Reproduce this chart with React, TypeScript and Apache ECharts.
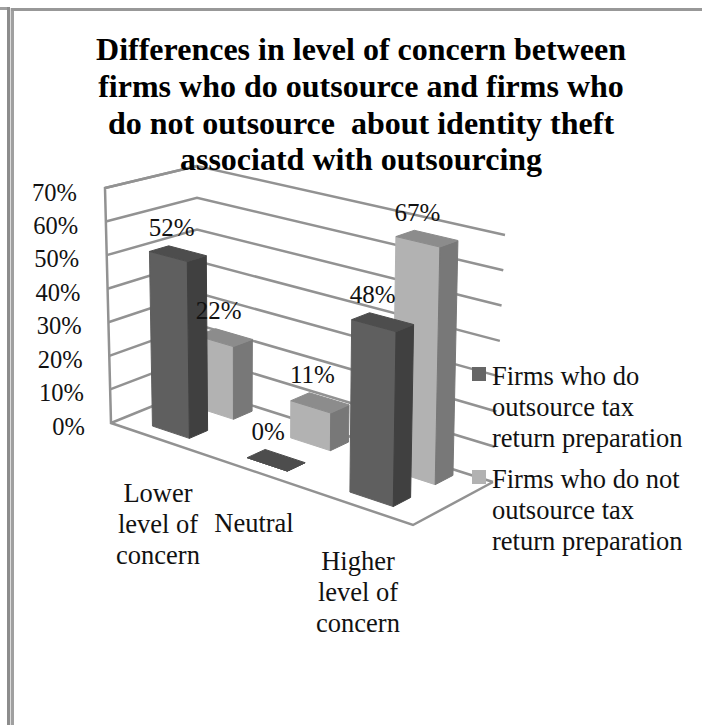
import React, { useEffect, useRef } from "react";
import * as echarts from "echarts";

const categories = ["Lower\nlevel of\nconcern", "Neutral", "Higher\nlevel of\nconcern"];
const seriesNames = [
  "Firms who do\noutsource tax\nreturn preparation",
  "Firms who do not\noutsource tax\nreturn preparation",
];
const doOutsource = [52, 0, 48];
const doNotOutsource = [22, 11, 67];
const ticks = [0, 10, 20, 30, 40, 50, 60, 70];
const titleText =
  "Differences in level of concern between\nfirms who do outsource and firms who\ndo not outsource  about identity theft\nassociatd with outsourcing";

const FONT = '"Liberation Serif", "Times New Roman", serif';
const corners = {
  fl0: [111, 423], fr0: [413, 525], bl0: [197, 388], br0: [493, 482],
  fl1: [105, 188], fr1: [418, 265], bl1: [197, 166], br1: [505, 235],
};
const barCorners = { ...corners, br1: [499, 235] };
const lerp = (a: number[], b: number[], t: number) => [a[0] + (b[0] - a[0]) * t, a[1] + (b[1] - a[1]) * t];
const projectWith = (c: typeof corners, s: number, d: number, v: number) => {
  const bottom = lerp(lerp(c.fl0, c.fr0, s), lerp(c.bl0, c.br0, s), d);
  const top = lerp(lerp(c.fl1, c.fr1, s), lerp(c.bl1, c.br1, s), d);
  return lerp(bottom, top, v);
};
const project = (s: number, d: number, v: number) => projectWith(corners, s, d, v);
const projectBar = (s: number, d: number, v: number) => projectWith(barCorners, s, d, v);
const warp = (u: number) => 0.88 * u + 0.12 * u * u;
const GRID = "#929292";
const BAR_HALF = 0.2;
const seriesDepth = [[0.17, 0.385], [0.69, 0.91]];
const seriesColors = [
  { front: "#5f5f5f", side: "#404040", top: "#4d4d4d", swatch: "#666666" },
  { front: "#b2b2b2", side: "#787878", top: "#8c8c8c", swatch: "#b2b2b2" },
];
const categoryLabelPos = [[158, 524], [254, 523], [358, 592]];
const legendPos = [[472, 367], [472, 470]];

const barSeries = (idx: number, values: number[]) => ({
  type: "custom",
  name: seriesNames[idx],
  coordinateSystem: "cartesian2d",
  clip: false,
  silent: true,
  z: 3 - idx,
  data: values.map((v, i) => [i, v]),
  encode: { x: 0, y: 1 },
  renderItem: (params: any, api: any) => {
    const cs = params.coordSys;
    const cat = api.value(0);
    const val = api.value(1);
    const p = api.coord([cat, val]);
    const band = api.size([1, 0])[0];
    const half = band * BAR_HALF;
    const uL = (p[0] - half - cs.x) / cs.width;
    const uR = (p[0] + half - cs.x) / cs.width;
    const v = (cs.y + cs.height - p[1]) / cs.height;
    const s0 = warp(uL), s1 = warp(uR);
    const [d0, d1] = seriesDepth[idx];
    const col = seriesColors[idx];
    const poly = (pts: number[][], fill: string) => ({
      type: "polygon",
      shape: { points: pts },
      style: { fill, stroke: fill, lineWidth: 1 },
    });
    const a = projectBar(s0, d0, v), b = projectBar(s1, d0, v), c = projectBar(s1, d1, v), e = projectBar(s0, d1, v);
    const a0 = projectBar(s0, d0, 0), b0 = projectBar(s1, d0, 0), c0 = projectBar(s1, d1, 0);
    return {
      type: "group",
      children: [
        poly([a, b, b0, a0], col.front),
        poly([b, c, c0, b0], col.side),
        poly([a, b, c, e], col.top),
      ],
    };
  },
});

const labelSeries = (idx: number, values: number[]) => ({
  type: "custom",
  coordinateSystem: "cartesian2d",
  clip: false,
  silent: true,
  z: 10,
  data: values.map((v, i) => [i, v]),
  encode: { x: 0, y: 1 },
  renderItem: (params: any, api: any) => {
    const cs = params.coordSys;
    const val = api.value(1);
    const p = api.coord([api.value(0), val]);
    const half = api.size([1, 0])[0] * BAR_HALF;
    const u = (p[0] - half - cs.x) / cs.width;
    const v = (cs.y + cs.height - p[1]) / cs.height;
    const pt = projectBar(warp(u), seriesDepth[idx][1], v);
    return {
      type: "text",
      x: pt[0] + 3,
      y: pt[1] - 18,
      style: { text: `${val}%`, font: `25px ${FONT}`, fill: "#111", align: "center", verticalAlign: "middle" },
    };
  },
});

const App = () => {
  const ref = useRef<HTMLDivElement>(null);
  useEffect(() => {
    const chart = echarts.init(ref.current!, undefined, { renderer: "svg" });
    chart.setOption({
      animation: false,
      backgroundColor: "#ffffff",
      title: {
        text: titleText,
        left: 356,
        top: 26,
        textAlign: "center",
        textStyle: { fontFamily: FONT, fontWeight: "bold", fontSize: 32, lineHeight: 36.7, color: "#000" },
      },
      grid: { left: 100, top: 100, width: 300, height: 300 },
      xAxis: { type: "category", data: categories, show: false },
      yAxis: { type: "value", min: 0, max: 70, interval: 10, show: false },
      graphic: [
        { type: "rect", shape: { x: 0, y: 7, width: 10, height: 3 }, style: { fill: "#a0a0a0" } },
        { type: "rect", shape: { x: 7, y: 7, width: 3, height: 718 }, style: { fill: "#8c8c8c" } },
        { type: "rect", shape: { x: 10, y: 8, width: 1, height: 717 }, style: { fill: "#dcdcdc" } },
        { type: "rect", shape: { x: 11, y: 8, width: 3, height: 717 }, style: { fill: "#a0a0a0" } },
        { type: "rect", shape: { x: 11, y: 8, width: 691, height: 3 }, style: { fill: "#989898" } },
        ...seriesNames.flatMap((name, i) => [
          {
            type: "rect", z: 20,
            shape: { x: legendPos[i][0], y: legendPos[i][1], width: 14, height: 14 },
            style: { fill: seriesColors[i].swatch },
          },
          {
            type: "text", z: 20,
            x: legendPos[i][0] + 20, y: legendPos[i][1] - 7,
            style: { text: name, font: `26.5px ${FONT}`, fill: "#111", lineHeight: 31 },
          },
        ]),
        ...categories.map((name, i) => ({
          type: "text", z: 20,
          x: categoryLabelPos[i][0], y: categoryLabelPos[i][1],
          style: { text: name, font: `26.5px ${FONT}`, fill: "#111", align: "center", verticalAlign: "middle", lineHeight: 31 },
        })),
      ],
      series: [
        {
          type: "custom",
          coordinateSystem: "cartesian2d",
          clip: false,
          silent: true,
          z: 1,
          data: ticks.map((t) => [0, t]),
          encode: { x: 0, y: 1 },
          renderItem: (params: any, api: any) => {
            const cs = params.coordSys;
            const t = api.value(1);
            const p = api.coord([0, t]);
            const v = (cs.y + cs.height - p[1]) / cs.height;
            const stroke = { stroke: GRID, lineWidth: 2.5, fill: "none" };
            const children: any[] = [
              { type: "polyline", shape: { points: [project(0, 0, v), project(0, 1, v), project(1, 1, v)] }, style: stroke },
              {
                type: "text", x: 85 - 8 * v, y: 426 - 234 * v, z2: 50,
                style: { text: `${t}%`, font: `24.5px ${FONT}`, fill: "#111", align: "right", verticalAlign: "middle" },
              },
            ];
            if (t === 0) {
              children.push({
                type: "polyline",
                shape: { points: [project(0, 1, 1), project(0, 0, 1), project(0, 0, 0), project(1, 0, 0), project(1, 1, 0)] },
                style: stroke,
              });
            }
            return { type: "group", children };
          },
        },
        barSeries(1, doNotOutsource),
        barSeries(0, doOutsource),
        labelSeries(0, doOutsource),
        labelSeries(1, doNotOutsource),
      ],
    });
    return () => chart.dispose();
  }, []);
  return <div ref={ref} style={{ position: "absolute", left: 0, top: 0, width: 702, height: 725 }} />;
};

export default App;
